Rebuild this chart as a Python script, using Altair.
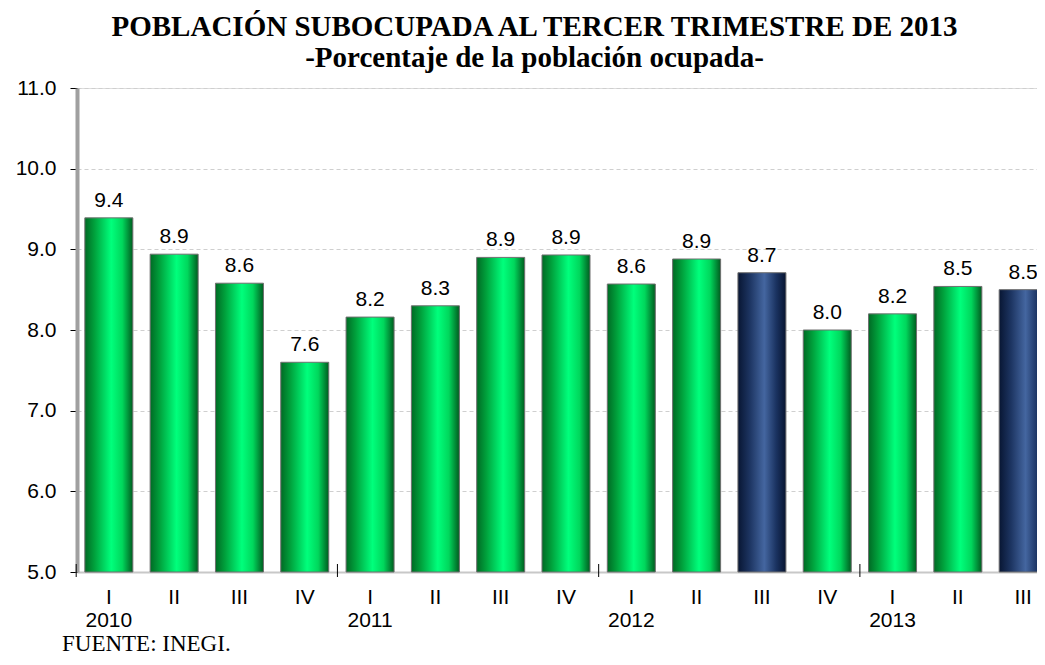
import altair as alt
import pandas as pd

keys = ["2010-I", "2010-II", "2010-III", "2010-IV",
        "2011-I", "2011-II", "2011-III", "2011-IV",
        "2012-I", "2012-II", "2012-III", "2012-IV",
        "2013-I", "2013-II", "2013-III"]
quarters = ["I", "II", "III", "IV", "I", "II", "III", "IV", "I", "II", "III", "IV", "I", "II", "III"]
years = ["2010", "", "", "", "2011", "", "", "", "2012", "", "", "", "2013", "", ""]
values = [9.39, 8.94, 8.58, 7.60, 8.16, 8.30, 8.90, 8.93, 8.57, 8.88, 8.71, 8.00, 8.20, 8.54, 8.50]
highlight = [False] * 10 + [True] + [False] * 3 + [True]
title_lines = ["POBLACIÓN SUBOCUPADA AL TERCER TRIMESTRE DE 2013", "-Porcentaje de la población ocupada-"]
source = "FUENTE: INEGI."

df = pd.DataFrame({"key": keys, "q": quarters, "year": years, "value": values, "hl": highlight})

W, H = 960, 484
STEP = 65.3
FS = 21
xscale = alt.Scale(domain=keys, range=[0, 978], paddingInner=0.265, paddingOuter=0.12)
yscale = alt.Scale(domain=[5, 11], zero=False, nice=False)

green = alt.Gradient(gradient="linear", x1=0, x2=1, y1=0, y2=0, stops=[
    alt.GradientStop(color="#006a24", offset=0),
    alt.GradientStop(color="#00a13c", offset=0.2),
    alt.GradientStop(color="#00ff7c", offset=0.55),
    alt.GradientStop(color="#00d75c", offset=0.78),
    alt.GradientStop(color="#005c1f", offset=1)])
navy = alt.Gradient(gradient="linear", x1=0, x2=1, y1=0, y2=0, stops=[
    alt.GradientStop(color="#081633", offset=0),
    alt.GradientStop(color="#1d3562", offset=0.25),
    alt.GradientStop(color="#4466a0", offset=0.55),
    alt.GradientStop(color="#1a3260", offset=0.8),
    alt.GradientStop(color="#071430", offset=1)])

xplain = alt.X("key:N", sort=keys, scale=xscale)
yplain = alt.Y("value:Q", scale=yscale)

xenc = alt.X("key:N", sort=keys, scale=xscale,
             axis=alt.Axis(title=None, labelExpr="split(datum.value, '-')[1]", labelAngle=0,
                           ticks=False, domainColor="#c8c8c8", domainWidth=2,
                           labelFont="Liberation Sans", labelFontSize=FS, labelColor="#000",
                           labelBaseline="alphabetic", labelPadding=31))
yenc = alt.Y("value:Q", scale=yscale,
             axis=alt.Axis(title=None, values=[5, 6, 7, 8, 9, 10, 11], format=".1f",
                           labelFont="Liberation Sans", labelFontSize=FS, labelColor="#000",
                           tickColor="#000", tickSize=7, labelPadding=14,
                           domainColor="#a0a0a0", domainWidth=4,
                           grid=True, gridColor="#cfcfcf", gridDash=[4, 3], gridWidth=1))

base = alt.Chart(df)

bars_g = base.transform_filter("!datum.hl").mark_bar(color=green, stroke="#6f6f6f", strokeWidth=1).encode(
    x=xenc, y=yenc, y2=alt.datum(5))
bars_n = base.transform_filter("datum.hl").mark_bar(color=navy, stroke="#6f6f6f", strokeWidth=1).encode(
    x=xplain, y=yplain, y2=alt.datum(5))

labels = base.mark_text(dy=-11, baseline="alphabetic", font="Liberation Sans", fontSize=FS, color="#000").encode(
    x=xplain, y=yplain, text=alt.Text("value:Q", format=".1f"))

year_lbl = base.transform_filter("datum.year != ''").mark_text(
    font="Liberation Sans", fontSize=FS, color="#000", baseline="alphabetic").encode(
    x=xplain, y=alt.value(H + 55), text="year:N")

ticks = base.transform_filter("datum.year != ''").mark_rule(
    xOffset=-STEP / 2, color="#000", strokeWidth=1).encode(
    x=xplain, y=alt.value(H - 8), y2=alt.value(H + 5))

tdf = pd.DataFrame({"t": title_lines, "y": [-52, -21]})
titles = alt.Chart(tdf).mark_text(font="Liberation Serif", fontSize=29, fontWeight="bold",
                                  color="#000", align="center", baseline="alphabetic").encode(
    x=alt.value(457.5), y=alt.Y("y:Q", scale=None), text="t:N")

fuente = alt.Chart(pd.DataFrame({"t": [source]})).mark_text(
    font="Liberation Serif", fontSize=23, color="#000",
    align="left", baseline="alphabetic").encode(x=alt.value(-15), y=alt.value(H + 79), text="t:N")

chart = alt.layer(bars_g, bars_n, labels, year_lbl, ticks, titles, fuente).properties(
    width=W, height=H,
    autosize=alt.AutoSizeParams(type="none"),
    padding={"left": 69, "top": 80, "right": 0, "bottom": 85},
).configure_view(stroke=None).configure(background="white")

chart.save("out.html", embed_options={"renderer": "svg", "actions": False})
